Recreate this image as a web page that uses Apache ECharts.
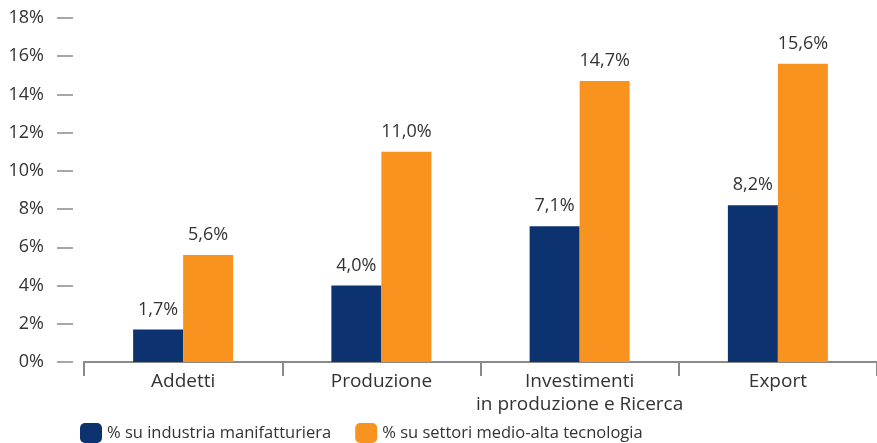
<!DOCTYPE html>
<html><head><meta charset="utf-8">
<script src="https://cdn.jsdelivr.net/npm/echarts@6/dist/echarts.min.js"></script>
<style>html,body{margin:0;padding:0;background:#fff}#c{width:877px;height:443px}</style>
</head><body><div id="c"></div>
<script>
const categories = ['Addetti', 'Produzione', 'Investimenti\nin produzione e Ricerca', 'Export'];
const seriesNames = ['% su industria manifatturiera', '% su settori medio-alta tecnologia'];
const manifatturiera = [1.7, 4.0, 7.1, 8.2];
const medioAlta = [5.6, 11.0, 14.7, 15.6];
const colors = ['#0c3270', '#f7931e'];
const FONT = 'Open Sans';
const chart = echarts.init(document.getElementById('c'), null, {renderer: 'canvas'});
const fmt = v => v.toFixed(1).replace('.', ',') + '%';
chart.setOption({
  animation: false,
  textStyle: {fontFamily: FONT},
  grid: {left: 84, right: -3, top: 18, bottom: 81, containLabel: false},
  legend: {
    left: 80, top: 423, padding: 0, itemWidth: 22, itemHeight: 20, itemGap: 24,
    textStyle: {fontFamily: FONT, fontSize: 16.5, color: '#333'},
    data: seriesNames
  },
  xAxis: {
    type: 'category', data: categories,
    axisLine: {lineStyle: {color: '#8a8a8a', width: 2}},
    axisTick: {show: true, length: 14, lineStyle: {color: '#8a8a8a', width: 2}},
    axisLabel: {interval: 0, fontFamily: FONT, fontSize: 19, color: '#333', margin: 8, lineHeight: 23}
  },
  yAxis: {
    type: 'value', min: 0, max: 18, interval: 2, offset: 11,
    splitLine: {show: false},
    axisLine: {show: false},
    axisTick: {show: true, length: 16, lineStyle: {color: '#8a8a8a', width: 1.5}},
    axisLabel: {fontFamily: FONT, fontSize: 18, color: '#333', margin: 29, formatter: v => v + '%'}
  },
  series: [
    {name: seriesNames[0], type: 'bar', data: manifatturiera, barWidth: 50, barGap: '0%',
     itemStyle: {color: colors[0]},
     label: {show: true, position: 'top', distance: 11, fontFamily: FONT, fontSize: 18, color: '#333', formatter: p => fmt(p.value)}},
    {name: seriesNames[1], type: 'bar', data: medioAlta, barWidth: 50,
     itemStyle: {color: colors[1]},
     label: {show: true, position: 'top', distance: 11, fontFamily: FONT, fontSize: 18, color: '#333', formatter: p => fmt(p.value)}}
  ]
});
</script></body></html>
